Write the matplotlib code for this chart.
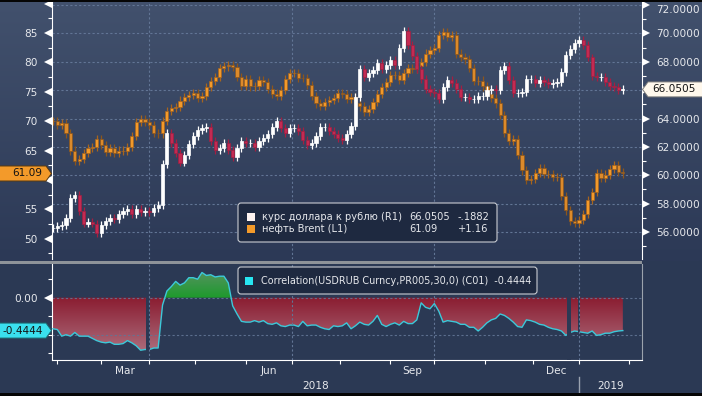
import numpy as np
import pandas as pd
import matplotlib
matplotlib.use('Agg')
import matplotlib.pyplot as plt
from matplotlib import transforms
from matplotlib.patches import Polygon, PathPatch, Rectangle, FancyBboxPatch
from matplotlib.path import Path
from matplotlib.colors import LinearSegmentedColormap
from matplotlib.ticker import FormatStrFormatter

plt.rcParams['font.family'] = ['DejaVu Sans']

# ---------------- data ----------------
start_date = '2018-01-30'
end_axis_date = '2019-02-28'
sample_step = 2  # business days between samples

usdrub = [56.3, 56.4, 56.5, 57.0, 58.4, 58.6, 57.5, 56.6, 56.7, 56.6,
          55.9, 56.5, 56.8, 57.0, 56.9, 57.3, 57.5, 57.6, 57.3, 57.6,
          57.4, 57.5, 57.4, 57.7, 57.9, 60.8, 63.0, 62.3, 61.6, 60.9,
          61.4, 62.2, 62.8, 63.2, 63.3, 63.4, 62.4, 61.8, 61.9, 62.3,
          61.8, 61.3, 61.9, 62.4, 62.3, 62.3, 62.0, 62.4, 62.6, 62.9,
          63.4, 63.8, 63.3, 63.0, 63.3, 63.3, 63.1, 62.5, 62.1, 62.3,
          62.8, 63.4, 63.4, 63.1, 62.9, 62.6, 62.5, 62.9, 63.5, 65.5,
          67.5, 66.9, 67.2, 67.4, 67.9, 67.5, 67.8, 68.1, 67.8, 69.0,
          70.2, 69.2, 68.4, 67.5, 66.8, 66.1, 65.9, 65.8, 65.4, 66.2,
          66.7, 66.5, 66.1, 65.5, 65.5, 65.4, 65.4, 65.6, 65.6, 66.0,
          66.1, 66.0, 67.4, 67.7, 66.7, 65.8, 65.8, 65.9, 66.8, 66.8,
          66.5, 66.7, 66.6, 66.4, 66.5, 66.6, 67.3, 68.5, 68.9, 69.3,
          69.5, 69.2, 68.3, 67.0, 66.9, 66.9, 66.6, 66.3, 66.2, 66.0,
          66.0505]

brent = [70.0, 69.3, 69.6, 67.9, 65.0, 63.3, 63.6, 64.6, 65.4, 65.6,
         67.0, 66.0, 64.8, 65.4, 64.6, 65.0, 65.0, 65.6, 67.5, 69.8,
         70.4, 69.9, 69.4, 68.0, 67.9, 70.0, 71.7, 72.2, 72.4, 73.5,
         74.1, 74.5, 74.8, 74.0, 74.3, 75.8, 76.8, 77.5, 79.0, 79.3,
         79.5, 79.2, 77.5, 76.0, 77.2, 75.9, 76.0, 77.0, 76.6, 75.5,
         74.7, 74.3, 75.3, 77.2, 78.2, 78.2, 77.4, 77.3, 76.2, 74.3,
         73.0, 72.6, 73.3, 73.6, 74.0, 74.8, 74.6, 73.8, 74.1, 73.1,
         72.5, 71.5, 72.0, 73.2, 74.6, 75.8, 76.6, 77.8, 77.8, 77.0,
         78.2, 79.1, 78.9, 79.3, 80.0, 81.5, 82.1, 82.5, 84.6, 85.1,
         84.3, 84.6, 81.5, 80.9, 80.5, 79.0, 76.8, 76.9, 75.9, 74.6,
         73.9, 73.0, 71.0, 68.0, 66.7, 67.0, 64.3, 61.6, 60.0, 60.1,
         61.2, 62.0, 61.0, 61.0, 60.5, 60.5, 57.2, 54.8, 53.0, 52.7,
         53.2, 54.2, 56.6, 58.0, 61.1, 60.4, 60.9, 61.8, 62.6, 61.3,
         61.09]

corr = [-0.42, -0.43, -0.52, -0.50, -0.52, -0.47, -0.52, -0.52, -0.52, -0.55,
        -0.58, -0.60, -0.61, -0.60, -0.63, -0.63, -0.62, -0.58, -0.61, -0.65,
        -0.71, -0.70, -0.70, -0.68, -0.68, -0.10, 0.09, 0.15, 0.22, 0.17,
        0.20, 0.27, 0.27, 0.25, 0.34, 0.30, 0.31, 0.28, 0.29, 0.29,
        0.20, -0.11, -0.22, -0.32, -0.33, -0.33, -0.31, -0.33, -0.31, -0.35,
        -0.36, -0.34, -0.38, -0.39, -0.37, -0.37, -0.39, -0.32, -0.38, -0.37,
        -0.37, -0.40, -0.42, -0.43, -0.38, -0.39, -0.38, -0.34, -0.42, -0.38,
        -0.33, -0.36, -0.37, -0.32, -0.24, -0.36, -0.39, -0.36, -0.34, -0.37,
        -0.32, -0.35, -0.35, -0.30, -0.07, -0.13, -0.15, -0.08, -0.18, -0.33,
        -0.31, -0.32, -0.33, -0.36, -0.36, -0.40, -0.40, -0.45, -0.40, -0.34,
        -0.30, -0.28, -0.22, -0.24, -0.28, -0.33, -0.39, -0.40, -0.30, -0.31,
        -0.33, -0.36, -0.37, -0.40, -0.42, -0.43, -0.45, -0.51, -0.47, -0.45,
        -0.46, -0.47, -0.48, -0.45, -0.51, -0.50, -0.48, -0.48, -0.46, -0.45,
        -0.4444]

holidays = ['2018-03-30', '2018-04-02', '2018-12-25', '2018-12-26', '2019-01-01']

left_ticks = [50, 55, 60, 65, 70, 75, 80, 85, 90]
left_labels = ['50', '55', '', '65', '70', '75', '80', '85', '']   # 60 sits under the value tag
right_ticks = [56, 58, 60, 62, 64, 66, 68, 70, 72]
right_hidden = 66                                                  # sits under the value tag
corr_ticks = [0.0]
corr_labels = ['0.00']
month_names = {3: 'Mar', 6: 'Jun', 9: 'Sep', 12: 'Dec'}
grid_months = ['2018-04-01', '2018-07-01', '2018-10-01', '2019-01-01']
year_split = '2019-01-01'
years = ['2018', '2019']

legend_rows = [('курс доллара к рублю (R1)', '66.0505', '-.1882'),
               ('нефть Brent (L1)', '61.09', '+1.16')]
usd_last = 66.0505
brent_last = 61.09
corr_last = -0.4444
corr_legend = 'Correlation(USDRUB Curncy,PR005,30,0) (C01)  -0.4444'

# ---------------- style ----------------
W, H = 702, 396
BG_TOP = '#42516d'
BG_LOW = '#2c3956'
BG_BOT = '#2b3954'
TXT = '#e6e8ec'
GRID = '#627595'
WHITE = '#ffffff'
CRIMSON = '#c42a52'
ORANGE = '#f39a2a'
ORANGE_DK = '#a8651d'
CYAN = '#3cc9d9'
FS = 7.6

fig = plt.figure(figsize=(W / 100, H / 100), dpi=100, facecolor=BG_BOT)
ident = transforms.IdentityTransform()


def fx(px):
    return px / W


def fy(py):
    return 1 - py / H


bdays = pd.bdate_range(start_date, end_axis_date)


def pos(d):
    return int(bdays.searchsorted(pd.Timestamp(d)))


n = len(usdrub)
xs = np.arange(0, n * sample_step, sample_step)
XLIM = (-0.42, 268.6)

# background gradient for upper part
bg = fig.add_axes([0, fy(261), 1, 261 / H])
bg.set_zorder(-5)
bg.axis('off')
bg.imshow(np.linspace(0, 1, 256).reshape(-1, 1), aspect='auto', origin='lower',
          extent=[0, 1, 0, 1], cmap=LinearSegmentedColormap.from_list('bg', [BG_LOW, BG_TOP]))
bg.set_xlim(0, 1)
bg.set_ylim(0, 1)

# ---------------- top panel ----------------
ax = fig.add_axes([fx(52), fy(259), fx(641.7) - fx(52), 257 / H])
ax.patch.set_visible(False)
ax2 = ax.twinx()
ax2.patch.set_visible(False)
ax.set_xlim(XLIM)
ax.set_ylim(46.54, 90.27)
ax2.set_ylim(54.10, 72.21)

gtr = transforms.blended_transform_factory(ax.transAxes, ax2.transData)
for v in right_ticks:
    ax.plot([0, 1], [v, v], transform=gtr, color=GRID, lw=0.8, ls=(0, (2, 2)), zorder=0.5)
for d in grid_months:
    ax.axvline(pos(d), color=GRID, lw=0.8, ls=(0, (2, 2)), zorder=0.5)


def candles(a, x, close, upc, upe, dnc, dne, wick, z):
    c = np.asarray(close, float)
    o = np.r_[c[0], c[:-1]]
    up = c >= o
    lo = np.minimum(o, c)
    hi = np.maximum(o, c)
    for m, fc, ec in ((up, upc, upe), (~up, dnc, dne)):
        a.vlines(x[m], lo[m] - wick, hi[m] + wick, color=ec, lw=0.9, zorder=z)
        a.bar(x[m], np.maximum(hi[m] - lo[m], 1e-3), bottom=lo[m], width=1.45,
              color=fc, edgecolor=ec, lw=0.5, zorder=z + 0.1)


candles(ax, xs, brent, ORANGE, ORANGE_DK, '#dc8a2a', '#8c561c', 0.7, 2)
candles(ax2, xs, usdrub, WHITE, WHITE, CRIMSON, '#a31f42', 0.28, 3)

ax.set_yticks(left_ticks)
ax.set_yticklabels(left_labels)
ax.set_yticks(np.arange(47.5, 90, 5), minor=True)
ax.tick_params(axis='y', which='major', length=0, pad=10.5, labelsize=FS, labelcolor=TXT)
ax.tick_params(axis='y', which='minor', length=3, width=0.8, color=WHITE, direction='out')
ax.tick_params(axis='x', which='both', bottom=False, labelbottom=False)

ax2.set_yticks(right_ticks)
ax2.set_yticklabels(['' if v == right_hidden else '%.4f' % v for v in right_ticks])
ax2.set_yticks(np.arange(55, 72, 2), minor=True)
ax2.tick_params(axis='y', which='major', length=0, pad=10.5, labelsize=FS, labelcolor=TXT)
ax2.tick_params(axis='y', which='minor', length=3, width=0.8, color=WHITE, direction='out')
ax2.tick_params(axis='x', which='both', bottom=False, labelbottom=False)
lbls = ax2.get_yticklabels()
lbls[-1].set_va('top')

for s in ('top', 'bottom', 'right'):
    ax.spines[s].set_visible(False)
for s in ('top', 'bottom', 'left'):
    ax2.spines[s].set_visible(False)
ax.spines['left'].set_color(WHITE)
ax2.spines['right'].set_color(WHITE)


def arrows(a, vals, side):
    off = -2.8 if side == 'left' else 2.8
    xa = 0 if side == 'left' else 1
    tr = transforms.blended_transform_factory(a.transAxes, a.transData) + \
        transforms.ScaledTranslation(off / 72, 0, fig.dpi_scale_trans)
    a.plot([xa] * len(vals), vals, ls='none', marker='<' if side == 'left' else '>',
           ms=5.2, mfc=WHITE, mec=WHITE, mew=0, transform=tr, clip_on=False, zorder=10)


arrows(ax, left_ticks, 'left')
arrows(ax2, right_ticks, 'right')

# ---------------- bottom panel ----------------
axb = fig.add_axes([fx(52), fy(360), fx(641.7) - fx(52), 96 / H])
axb.set_facecolor(BG_BOT)
axb.set_xlim(XLIM)
axb.set_ylim(-0.842, 0.455)
cv = np.asarray(corr, float)


def grad_fill(a, positive, c_near, c_far, y_far):
    where = cv >= 0 if positive else cv <= 0
    poly = a.fill_between(xs, 0, cv, where=where, interpolate=True,
                          facecolor='none', edgecolor='none')
    cp = Path.make_compound_path(*poly.get_paths())
    patch = PathPatch(cp, transform=a.transData, facecolor='none', edgecolor='none')
    a.add_patch(patch)
    if positive:
        cmap = LinearSegmentedColormap.from_list('g', [c_near, c_far])
        ext = [XLIM[0], XLIM[1], 0, y_far]
    else:
        cmap = LinearSegmentedColormap.from_list('r', [c_far, c_near])
        ext = [XLIM[0], XLIM[1], y_far, 0]
    im = a.imshow(np.linspace(0, 1, 256).reshape(-1, 1), aspect='auto', origin='lower',
                  extent=ext, cmap=cmap, zorder=1)
    im.set_clip_path(patch)


grad_fill(axb, False, '#8a1c30', '#b07584', -0.80)
grad_fill(axb, True, '#1e9a2c', '#5a9266', 0.40)
axb.set_xlim(XLIM)
axb.set_ylim(-0.842, 0.455)

for v in (0.0, -0.5):
    axb.axhline(v, color=GRID, lw=0.8, ls=(0, (2, 2)), zorder=2, alpha=0.9)
axb.plot(xs, cv, color=CYAN, lw=1.0, zorder=3)
for d in holidays:
    p = pos(d)
    axb.axvspan(p - 0.5, p + 0.5, color=BG_BOT, lw=0, zorder=4)
for d in grid_months:
    axb.axvline(pos(d), color=GRID, lw=0.8, ls=(0, (2, 2)), zorder=5)

axb.set_yticks(corr_ticks)
axb.set_yticklabels(corr_labels)
axb.set_yticks([0.25, -0.25, -0.5, -0.75], minor=True)
axb.tick_params(axis='y', which='major', length=0, pad=10.5, labelsize=FS, labelcolor=TXT)
axb.tick_params(axis='y', which='minor', length=3, width=0.8, color=WHITE, direction='out')
arrows(axb, corr_ticks, 'left')

months = pd.date_range('2018-02-01', '2019-02-01', freq='MS')
mpos = [pos(m) for m in months]
axb.set_xticks(mpos)
axb.set_xticklabels([])
mids, mlab = [], []
for i in range(len(months) - 1):
    if months[i].month in month_names:
        mids.append((mpos[i] + mpos[i + 1]) / 2)
        mlab.append(month_names[months[i].month])
axb.set_xticks(mids, minor=True)
axb.set_xticklabels(mlab, minor=True)
axb.tick_params(axis='x', which='major', length=3, width=0.8, color=WHITE, direction='out')
axb.tick_params(axis='x', which='minor', length=0, pad=4, labelsize=FS, labelcolor=TXT)

js = pos(year_split)
ytr = transforms.blended_transform_factory(axb.transData, axb.transAxes)
axb.text((XLIM[0] + js) / 2, -0.27, years[0], transform=ytr, ha='center', va='center',
         fontsize=FS, color=TXT)
axb.text((js + XLIM[1]) / 2, -0.27, years[1], transform=ytr, ha='center', va='center',
         fontsize=FS, color=TXT)
axb.plot([js, js], [-0.177, -0.344], transform=ytr, color='#9aa3b0', lw=1, clip_on=False)

axb.spines['top'].set_visible(False)
axb.spines['left'].set_color(WHITE)
axb.spines['bottom'].set_color(WHITE)
axb.spines['right'].set_color('#9ba3ad')

# ---------------- frame pieces ----------------
fig.add_artist(Rectangle((0, H - 263.5), 641.7, 3, transform=ident, color='#8e9399', lw=0, zorder=5))
fig.add_artist(Rectangle((0, H - 1.5), W, 1.5, transform=ident, color='#050505', lw=0, zorder=5))
fig.add_artist(Rectangle((0, 0), W, 3, transform=ident, color='#050505', lw=0, zorder=5))


# ---------------- value tags ----------------
def tag(yc, x_out, x_box, x_tip, fc, ec, text, tx):
    pts = [(x_out, yc - 7.5), (x_box, yc - 7.5), (x_tip, yc), (x_box, yc + 7.5), (x_out, yc + 7.5)]
    fig.add_artist(Polygon(pts, closed=True, transform=ident, facecolor=fc, edgecolor=ec,
                           lw=0.7, zorder=20))
    fig.text(tx, yc, text, transform=ident, ha='center', va='center', fontsize=FS,
             color='#141414', zorder=21)


yb = ax.transData.transform((0, brent_last))[1]
tag(yb, -2, 46, 51.5, ORANGE, '#5a3a10', '%.2f' % brent_last, 27)
yu = ax2.transData.transform((0, usd_last))[1]
tag(yu, W + 2, 648, 642.5, '#fff8ec', '#777777', '%.4f' % usd_last, 674)
yc = axb.transData.transform((0, corr_last))[1]
tag(yc, -2, 46, 51.5, '#3ae0ee', '#1a6a70', '%.4f' % corr_last, 23)


# ---------------- legends ----------------
def box(x0, y0, x1, y1):
    fig.add_artist(FancyBboxPatch((x0, H - y1), x1 - x0, y1 - y0,
                                  boxstyle='round,pad=0,rounding_size=3', transform=ident,
                                  facecolor='#1e2940', edgecolor='#c9ccd2', lw=0.8, zorder=15))


def swatch(x, yc, color):
    fig.add_artist(Rectangle((x, H - yc - 4), 8, 8, transform=ident, facecolor=color,
                             edgecolor='none', zorder=16))


def ltext(x, yc, s, fs):
    fig.text(x, H - yc, s, transform=ident, ha='left', va='center', fontsize=fs,
             color=TXT, zorder=17)


box(238, 203, 497, 242)
rows_y = [216.7, 229.3]
for (name, val, chg), yy, col in zip(legend_rows, rows_y, ['#fdf3f0', ORANGE]):
    swatch(247, yy, col)
    ltext(262, yy, name, 7.1)
    ltext(409, yy, val, 7.1)
    ltext(458, yy, chg, 7.1)

box(238, 267, 537, 294)
swatch(245, 280.5, '#27e6f2')
ltext(261, 280.5, corr_legend, 6.9)

fig.savefig('out.png', dpi=100, facecolor=fig.get_facecolor())
